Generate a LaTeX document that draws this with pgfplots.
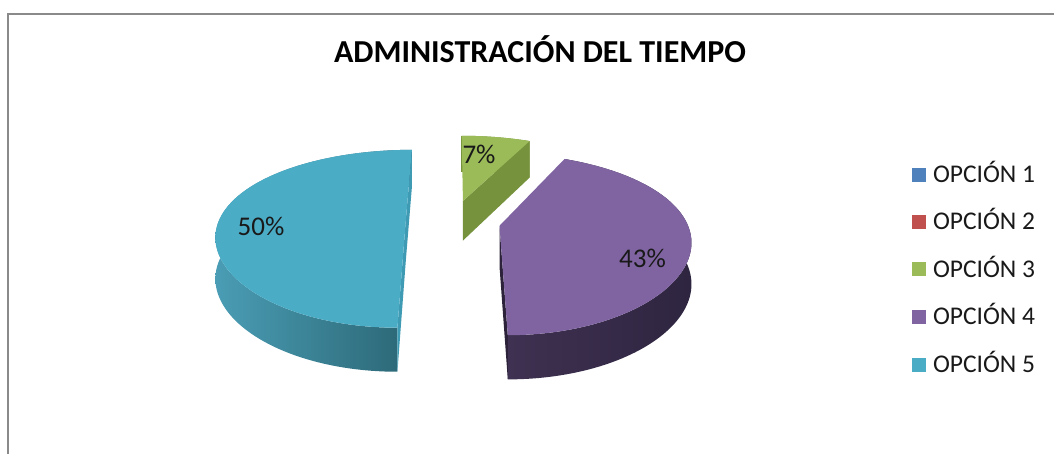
\documentclass[border=0pt]{standalone}
\usepackage{fontspec}
\setmainfont{Carlito}
\usepackage{graphicx}
\usepackage{pgfplots}
\usepackage{pgfplotstable}
\pgfplotsset{compat=1.18}

\definecolor{opA}{HTML}{4F81BD}
\definecolor{opB}{HTML}{C0504D}
\definecolor{opC}{HTML}{9BBB59}
\definecolor{opD}{HTML}{8064A2}
\definecolor{opE}{HTML}{4BACC6}
\definecolor{opCcut}{HTML}{76923C}
\definecolor{opDsideL}{HTML}{3F3151}
\definecolor{opDsideR}{HTML}{2E2540}
\definecolor{opDcut}{HTML}{2C2239}
\definecolor{opEsideL}{HTML}{4A9DB5}
\definecolor{opEsideR}{HTML}{2B6674}
\definecolor{opEcut}{HTML}{3F9AB3}
\definecolor{framegray}{HTML}{8A8A8A}

\pgfplotstableread{
opcion valor
1 0
2 0
3 7
4 43
5 50
}\piedata
\pgfplotstablegetelem{0}{valor}\of\piedata\let\vA\pgfplotsretval
\pgfplotstablegetelem{1}{valor}\of\piedata\let\vB\pgfplotsretval
\pgfplotstablegetelem{2}{valor}\of\piedata\let\vC\pgfplotsretval
\pgfplotstablegetelem{3}{valor}\of\piedata\let\vD\pgfplotsretval
\pgfplotstablegetelem{4}{valor}\of\piedata\let\vE\pgfplotsretval

% slice angles (degrees, clockwise from 12 o'clock)
\pgfmathsetmacro\sC{3.6*(\vA+\vB)}
\pgfmathsetmacro\eC{\sC+3.6*\vC}
\pgfmathsetmacro\eD{\eC+3.6*\vD}
\pgfmathsetmacro\eE{\eD+3.6*\vE}
% explosion
\def\EX{0.2527}
\pgfmathsetmacro\mC{(\sC+\eC)/2}\pgfmathsetmacro\xC{\EX*sin(\mC)}\pgfmathsetmacro\zC{\EX*cos(\mC)}
\pgfmathsetmacro\mD{(\eC+\eD)/2}\pgfmathsetmacro\xD{\EX*sin(\mD)}\pgfmathsetmacro\zD{\EX*cos(\mD)}
\pgfmathsetmacro\mE{(\eD+\eE)/2}\pgfmathsetmacro\xE{\EX*sin(\mE)}\pgfmathsetmacro\zE{\EX*cos(\mE)}

\newcommand\topface[5]{%
\addplot[fill=#5, draw=none, forget plot, variable=\t, samples at={0,...,101}]
({PX(#3+(\t<100.5)*sin(#1+(#2-#1)*\t/100), #4+(\t<100.5)*cos(#1+(#2-#1)*\t/100))},
 {PY(#4+(\t<100.5)*cos(#1+(#2-#1)*\t/100), 0)});}
\newcommand\sideface[6]{%
\addplot[left color=#5, right color=#6, draw=none, forget plot, variable=\t, samples at={0,...,201}]
({PX(#3+sin(#1+(#2-#1)*ifthenelse(\t<100.5,\t,201-\t)/100), #4+cos(#1+(#2-#1)*ifthenelse(\t<100.5,\t,201-\t)/100))},
 {PY(#4+cos(#1+(#2-#1)*ifthenelse(\t<100.5,\t,201-\t)/100), \t>100.5)});}
\newcommand\cutface[4]{%
\addplot[fill=#4, draw=none, forget plot, variable=\t, samples at={0,1,2,3}]
({PX(#1+((\t>0.5)*(\t<2.5))*sin(#3), #2+((\t>0.5)*(\t<2.5))*cos(#3))},
 {PY(#2+((\t>0.5)*(\t<2.5))*cos(#3), \t>1.5)});}

\begin{document}
\begin{tikzpicture}
\begin{axis}[
  at={(0pt,0pt)}, anchor=south west,
  scale only axis, width=527pt, height=227pt,
  xmin=0, xmax=1054, ymin=0, ymax=454, y dir=reverse,
  hide axis, clip=false,
  declare function={
    PX(\XX,\ZZ)=453+187*\XX/(1+0.15*\ZZ);
    PY(\ZZ,\HH)=221-85.4*\ZZ/(1+0.2*\ZZ)+\HH*(40.5-3.5*\ZZ);
  },
  legend image code/.code={\fill[#1, draw=none] (0pt,-3.5pt) rectangle (7pt,3.5pt);},
  legend cell align=left,
  legend style={draw=none, fill=none, inner sep=0pt, outer sep=0pt,
    at={(axis cs:912,166.9)}, anchor=north west,
    row sep=16.15pt, column sep=3.5pt,
    nodes={inner sep=0pt, text height=7.6pt, text depth=0pt},
    font=\fontsize{12.75pt}{15pt}\selectfont, text=black!90},
]
% frame
\draw[framegray, line width=1pt] (axis cs:8.3,470) -- (axis cs:8.3,14.3) -- (axis cs:1070,14.3);

% OPCION 3 (green)
\sideface{\sC}{\eC}{\xC}{\zC}{opCcut}{opCcut}
\cutface{\xC}{\zC}{\eC}{opCcut}
\topface{\sC}{\eC}{\xC}{\zC}{opC}
% OPCION 5 (aqua)
\sideface{\eD}{\eE}{\xE}{\zE}{opEsideL}{opEsideR}
\cutface{\xE}{\zE}{\eD}{opEcut}
\cutface{\xE}{\zE}{\eE}{opEcut}
\topface{\eD}{\eE}{\xE}{\zE}{opE}
% OPCION 4 (purple)
\sideface{\eC}{\eD}{\xD}{\zD}{opDsideL}{opDsideR}
\cutface{\xD}{\zD}{\eD}{opDcut}
\topface{\eC}{\eD}{\xD}{\zD}{opD}

% data labels
\node[anchor=base, font=\fontsize{13.5pt}{16pt}\selectfont, text=black!90] at (axis cs:479,164) {\vC\%};
\node[anchor=base, font=\fontsize{13.5pt}{16pt}\selectfont, text=black!90] at (axis cs:642.5,268) {\vD\%};
\node[anchor=base, font=\fontsize{13.5pt}{16pt}\selectfont, text=black!90] at (axis cs:261,235) {\vE\%};

% title
\node[anchor=base, font=\bfseries\fontsize{16pt}{19pt}\selectfont] at (axis cs:540,63) {ADMINISTRACIÓN DEL TIEMPO};

\addlegendimage{fill=opA}\addlegendentry{OPCIÓN 1}
\addlegendimage{fill=opB}\addlegendentry{OPCIÓN 2}
\addlegendimage{fill=opC}\addlegendentry{OPCIÓN 3}
\addlegendimage{fill=opD}\addlegendentry{OPCIÓN 4}
\addlegendimage{fill=opE}\addlegendentry{OPCIÓN 5}
\end{axis}
\pgfresetboundingbox
\path (0,0) rectangle (527pt,227pt);
\end{tikzpicture}
\end{document}
